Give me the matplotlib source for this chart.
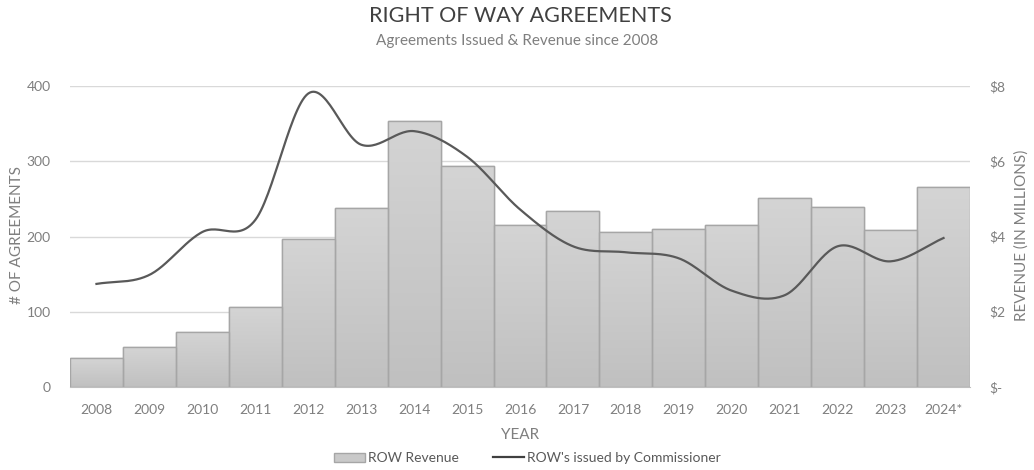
import numpy as np
import matplotlib
matplotlib.use("Agg")
import matplotlib.pyplot as plt
from matplotlib.colors import LinearSegmentedColormap
from matplotlib.patches import Patch
from matplotlib.lines import Line2D

plt.rcParams['font.family'] = ['Lato', 'DejaVu Sans']

years = ['2008', '2009', '2010', '2011', '2012', '2013', '2014', '2015', '2016',
         '2017', '2018', '2019', '2020', '2021', '2022', '2023', '2024*']
# revenue in millions of dollars
revenue = [0.76, 1.05, 1.47, 2.12, 3.93, 4.75, 7.08, 5.88, 4.30,
           4.68, 4.11, 4.21, 4.30, 5.01, 4.78, 4.17, 5.31]
# right of way agreements issued by the commissioner
issued = [137, 149, 206, 222, 390, 322, 340, 306, 236,
          187, 179, 171, 128, 122, 187, 167, 198]

grey_text = '#7f7f7f'
dark_text = '#404040'


def smooth(xs, ys, n=30):
    # excel-style smoothed line (catmull-rom through every point)
    xs = np.asarray(xs, float)
    ys = np.asarray(ys, float)
    px = np.concatenate([[2 * xs[0] - xs[1]], xs, [2 * xs[-1] - xs[-2]]])
    py = np.concatenate([[2 * ys[0] - ys[1]], ys, [2 * ys[-1] - ys[-2]]])
    out_x, out_y = [], []
    t = np.linspace(0, 1, n)
    for i in range(1, len(px) - 2):
        for p, out in ((px, out_x), (py, out_y)):
            p0, p1, p2, p3 = p[i - 1], p[i], p[i + 1], p[i + 2]
            c1 = p1 + (p2 - p0) / 6
            c2 = p2 - (p3 - p1) / 6
            out.extend((1 - t) ** 3 * p1 + 3 * (1 - t) ** 2 * t * c1
                       + 3 * (1 - t) * t ** 2 * c2 + t ** 3 * p2)
    return out_x, out_y


fig = plt.figure(figsize=(10.34, 4.70), dpi=100)
ax = fig.add_axes([70 / 1034, 83 / 470, 900 / 1034, 301 / 470])
ax2 = ax.twinx()

x = np.arange(len(years))

# bars (revenue) on the right axis, behind the line
ax2.set_axisbelow(True)
ax2.grid(axis='y', color='#d9d9d9', linewidth=1)
bars = ax2.bar(x, revenue, width=1.0, color='#cccccc', edgecolor='#a6a6a6',
               linewidth=1, zorder=2)
grad = LinearSegmentedColormap.from_list('g', ['#c0c0c0', '#d4d4d4'])
for b in bars:
    im = ax2.imshow(np.linspace(0, 1, 100).reshape(-1, 1), cmap=grad,
                    origin='lower', aspect='auto', zorder=2,
                    extent=[b.get_x(), b.get_x() + b.get_width(), 0, b.get_height()])
    im.set_clip_path(b)
for b in bars:
    ax2.add_patch(plt.Rectangle((b.get_x(), 0), b.get_width(), b.get_height(),
                                fill=False, edgecolor='#a6a6a6', linewidth=1, zorder=3))

sx, sy = smooth(x, issued)
ax.plot(sx, sy, color='#595959', linewidth=1.6, zorder=5)

ax.set_zorder(ax2.get_zorder() + 1)
ax.patch.set_visible(False)

ax.set_xlim(-0.5, len(years) - 0.5)
ax.set_ylim(0, 400)
ax2.set_ylim(0, 8)
ax.set_yticks([0, 100, 200, 300, 400])
ax2.set_yticks([0, 2, 4, 6, 8])
ax2.set_yticklabels(['$-', '$2', '$4', '$6', '$8'])
ax.set_xticks(x)
ax.set_xticklabels(years)

for a in (ax, ax2):
    for s in a.spines.values():
        s.set_visible(False)
    a.tick_params(length=0, colors=grey_text, labelsize=10)
ax2.spines['bottom'].set_visible(True)
ax2.spines['bottom'].set_color('#bfbfbf')
ax.tick_params(axis='y', pad=14)
ax2.tick_params(axis='y', pad=14)
ax.tick_params(axis='x', pad=12)

fig.text(17 / 1034, 0.5, '# OF AGREEMENTS', rotation=90, ha='center',
         va='center', fontsize=11, color=grey_text)
fig.text(1022 / 1034, 0.5, 'REVENUE (IN MILLIONS)', rotation=90, ha='center',
         va='center', fontsize=11, color=grey_text)
ax.set_xlabel('YEAR', fontsize=11, color=grey_text, labelpad=9)

fig.text(0.503, 0.966, 'RIGHT OF WAY AGREEMENTS', ha='center', va='center',
         fontsize=15.5, color=dark_text)
fig.text(0.5, 0.912, 'Agreements Issued & Revenue since 2008', ha='center',
         va='center', fontsize=11, color=grey_text)

handles = [Patch(facecolor='#c9c9c9', edgecolor='#a6a6a6'),
           Line2D([], [], color='#404040', linewidth=1.6)]
fig.legend(handles, ['ROW Revenue', "ROW's issued by Commissioner"],
           loc='center', bbox_to_anchor=(0.51, 0.025), ncol=2, frameon=False,
           fontsize=10, labelcolor='#595959', handlelength=2.2,
           handletextpad=0.2, columnspacing=2.5)

fig.savefig('out.png', dpi=100)
